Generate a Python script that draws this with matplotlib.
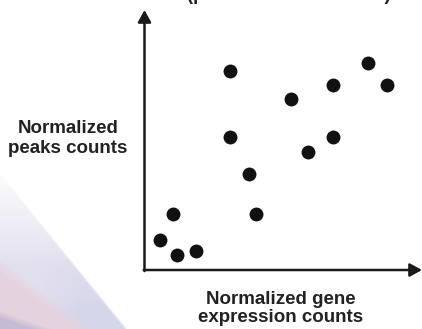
import numpy as np
import matplotlib
matplotlib.use("Agg")
import matplotlib.pyplot as plt

# Normalized gene expression (x) vs normalized peaks (y), arbitrary units 0-100
gene_expr = [30.8, 80.6, 67.8, 87.3, 52.7, 30.8, 67.8, 58.8, 37.7, 10.4, 40.2, 5.6, 11.6, 18.5]
peak_counts = [76.7, 79.5, 71.2, 71.2, 65.8, 51.3, 51.3, 45.5, 36.8, 21.5, 21.5, 11.5, 5.8, 7.4]

x_label = "Normalized gene\nexpression counts"
y_label = "Normalized\npeaks counts"
header = "(per condition or state)"

W, H = 422, 329
fig = plt.figure(figsize=(W / 100, H / 100), dpi=100)
fig.patch.set_facecolor("white")

# Soft decorative wedge in the lower-left corner
bg = fig.add_axes([0, 0, 1, 1], zorder=0)
yy, xx = np.mgrid[0:H, 0:W].astype(float)
edge = 172 + 1.23 * xx
inside = np.clip((yy - edge) / 4.0, 0, 1)
fade = np.clip((yy - 165) / 100.0, 0, 1) ** 0.9
lav = np.array([226, 223, 238]) / 255
blu = np.array([210, 212, 232]) / 255
pink = np.array([228, 208, 222]) / 255
purp = np.array([196, 184, 210]) / 255
w_blue = np.clip((yy - 250) / 60.0, 0, 1)[..., None] * np.clip((xx - 30) / 50.0, 0, 1)[..., None]
w_pink = np.clip((yy - (258 + 0.75 * xx)) / 14.0, 0, 1)[..., None]
w_purp = np.clip((yy - (310 + 0.35 * xx)) / 8.0, 0, 1)[..., None] * np.clip((70 - xx) / 20.0, 0, 1)[..., None]
col = lav * (1 - w_blue) + blu * w_blue
col = col * (1 - w_pink) + pink * w_pink
col = col * (1 - w_purp) + purp * w_purp
alpha = (inside * fade * 0.95)[..., None]
img = np.concatenate([col * alpha + (1 - alpha), np.ones((H, W, 1))], axis=2)
bg.imshow(img, extent=[0, W, H, 0], aspect="auto", interpolation="bilinear")
bg.set_xlim(0, W)
bg.set_ylim(H, 0)
bg.axis("off")

# Main plotting area
x0, y0 = 144.5, 270
ax = fig.add_axes([x0 / W, (H - y0) / H, (W - x0) / W, (y0 - 10) / H], zorder=2)
ax.patch.set_alpha(0)
ax.set_xlim(0, 100)
ax.set_ylim(0, 100)
for s in ax.spines.values():
    s.set_visible(False)
ax.set_xticks([])
ax.set_yticks([])

ax.plot(gene_expr, peak_counts, "o", color="#111111", markersize=10,
        markeredgewidth=0, clip_on=False, zorder=3)

arrow_kw = dict(arrowstyle="-|>,head_length=0.4,head_width=0.22", lw=1.8,
                color="#1a1a1a", mutation_scale=18, shrinkA=0, shrinkB=0)
ax.annotate("", xy=(0, 1), xytext=(0, -0.004), xycoords="axes fraction",
            arrowprops=arrow_kw, annotation_clip=False)
ax.annotate("", xy=(1, 0), xytext=(-0.003, 0), xycoords="axes fraction",
            arrowprops=arrow_kw, annotation_clip=False)

font = dict(family=["Liberation Sans", "DejaVu Sans"], fontweight="bold",
            color="#222222", fontsize=13.5)
fig.text(68 / W, 1 - 138.5 / H, y_label, ha="center", va="center",
         linespacing=1.22, **font)
fig.text(281 / W, 1 - 308.5 / H, x_label, ha="center", va="center",
         linespacing=1.15, **font)
fig.text(289 / W, 1 - 0.5 / H, header, ha="center", va="baseline", **font)

fig.savefig("out.png", dpi=100, facecolor="white")
